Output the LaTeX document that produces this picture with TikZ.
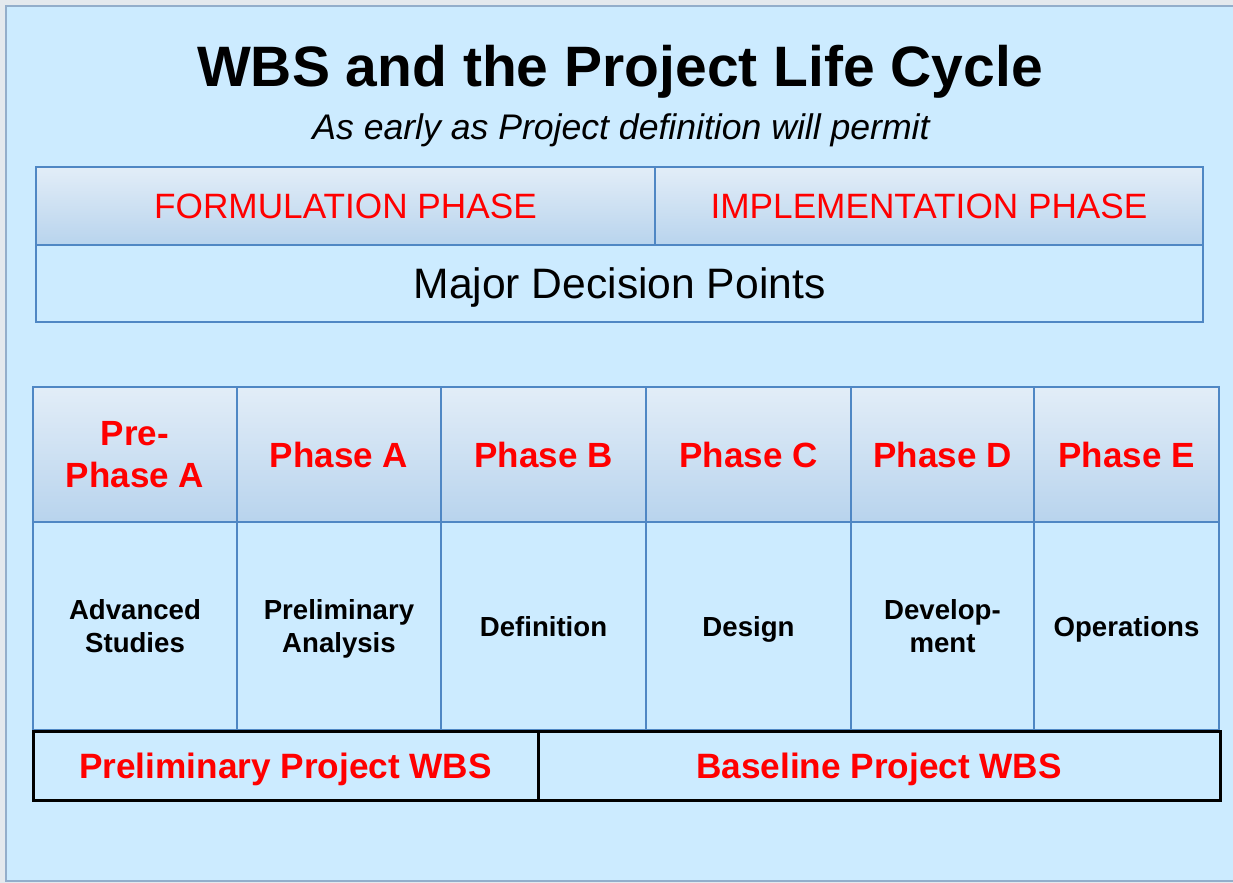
\documentclass[tikz,border=0pt]{standalone}
\usepackage{fontspec}
\setmainfont{Liberation Sans}
\definecolor{bgblue}{HTML}{CCEBFF}
\definecolor{cellline}{HTML}{4F87C4}
\definecolor{framecol}{HTML}{93AECB}
\definecolor{outercol}{HTML}{E4E9EE}
\definecolor{hdrtop}{HTML}{F7FAFD}
\definecolor{hdrmid}{HTML}{B4D1EC}
\definecolor{hdrbot}{HTML}{C6DCF1}
\pgfdeclareverticalshading{hdrshade}{100bp}{color(0bp)=(hdrbot); color(20bp)=(hdrmid); color(100bp)=(hdrtop)}
\newcommand{\phasefont}{\fontsize{17.5}{21}\selectfont\bfseries}
\newcommand{\bodyfont}{\fontsize{13.8}{16.5}\selectfont\bfseries}
\tikzset{
  cell/.style={draw=cellline, line width=0.75pt, inner sep=0pt, outer sep=0pt, align=center},
  hdrcell/.style={cell, shading=hdrshade},
  bodycell/.style={cell, fill=bgblue, text depth=0pt},
  wbscell/.style={draw=black, line width=1.5pt, inner sep=0pt, outer sep=0pt, fill=bgblue,
    text=red, text depth=0pt, font=\fontsize{17.6}{20}\selectfont\bfseries},
}
\begin{document}
\begin{tikzpicture}[x=0.5pt, y=-0.5pt]
  \useasboundingbox (0,0) rectangle (1233,883);
  % outer frame
  \fill[outercol] (0,0) rectangle (1233,883);
  \draw[framecol, line width=1pt, fill=bgblue] (6,6) rectangle (1240,881);

  % title lines
  \node[text depth=0pt, font=\fontsize{28.5}{32}\selectfont\bfseries] (title) at (620,66) {WBS and the Project Life Cycle};
  \node[text depth=0pt, font=\fontsize{17.8}{20}\selectfont\itshape] (subtitle) at (621,127) {As early as Project definition will permit};

  % life cycle phases
  \node[hdrcell, minimum width=309.5pt, minimum height=39pt, text=red,
    font=\fontsize{17.6}{20}\selectfont] (formul) at (345.5,206) {FORMULATION PHASE};
  \node[hdrcell, minimum width=274pt, minimum height=39.5pt, text=red,
    font=\fontsize{17.6}{20}\selectfont] (implem) at (929,206.5) {IMPLEMENTATION PHASE};
  \node[bodycell, minimum width=583.5pt, minimum height=38.5pt,
    font=\fontsize{21.3}{24}\selectfont] (decision) at (619.5,283.5) {Major Decision Points};

  % phase columns: left edge / right edge / header / content
  \foreach \l/\r/\hd/\bd [count=\i] in {
      33/237/{Pre-\\Phase A}/{Advanced\\Studies},
      237/441/{Phase A}/{Preliminary\\Analysis},
      441/646/{Phase B}/{Definition},
      646/851/{Phase C}/{Design},
      851/1034/{Phase D}/{Develop-\\ment},
      1034/1219/{Phase E}/{Operations}} {
    \pgfmathsetmacro{\w}{(\r-\l)/2}
    \pgfmathsetmacro{\cx}{(\l+\r)/2}
    \node[hdrcell, minimum width=\w pt, minimum height=67.5pt, text=red, font=\phasefont] (ph\i) at (\cx,454.5) {\hd};
    \node[bodycell, minimum width=\w pt, minimum height=104pt, font=\bodyfont] (st\i) at (\cx,626) {\bd};
  }

  % WBS bar
  \node[wbscell, minimum width=252.5pt, minimum height=34.5pt] (prelwbs) at (285.5,765.5) {Preliminary Project WBS};
  \node[wbscell, minimum width=341pt, minimum height=34.5pt] (basewbs) at (879,765.5) {Baseline Project WBS};
\end{tikzpicture}
\end{document}
